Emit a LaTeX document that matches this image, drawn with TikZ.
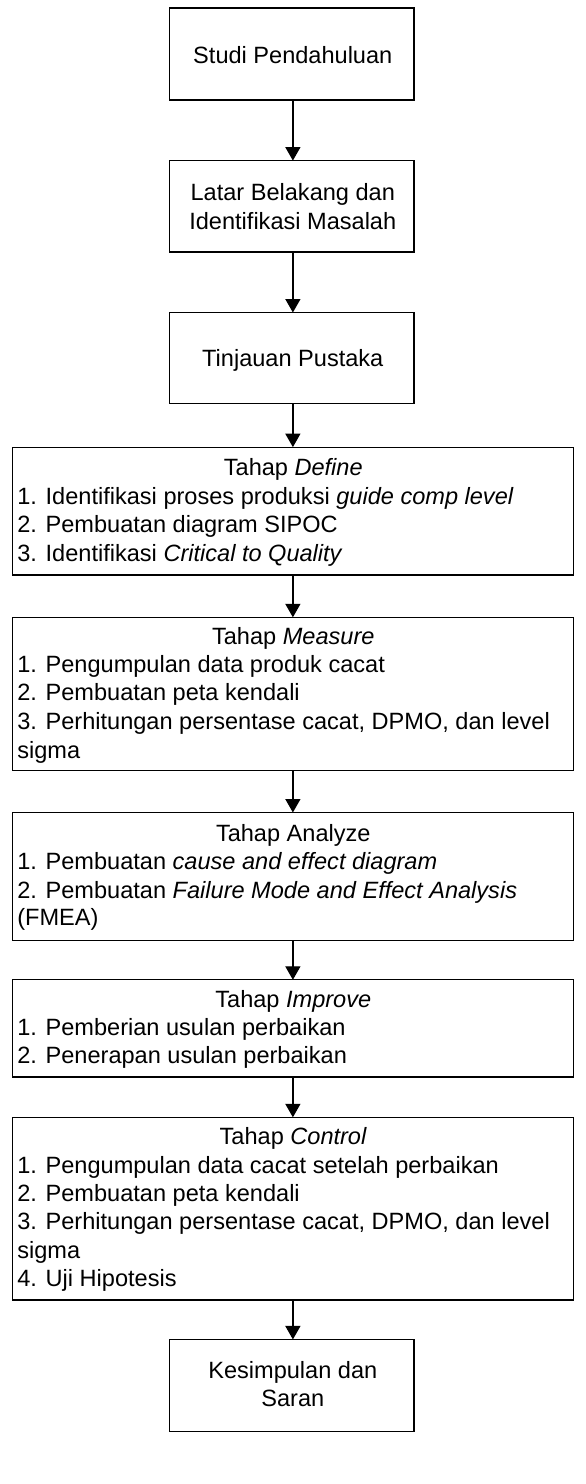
\documentclass[tikz,border=0pt]{standalone}
\usepackage{fontspec}
\setmainfont{Liberation Sans}
\usetikzlibrary{arrows.meta,fit}
\begin{document}
\begin{tikzpicture}[x=0.5pt,y=-0.5pt,
  box/.style={draw=black, line width=0.65pt, inner sep=0pt, outer sep=0pt},
  txt/.style={inner sep=0pt, outer sep=0pt, font=\fontsize{12.25pt}{14.7pt}\selectfont},
  ttl/.style={txt, anchor=base},
  itm/.style={txt, anchor=base west},
  arr/.style={line width=0.65pt, -{Triangle[width=7.8pt,length=7pt]}}]
\useasboundingbox (0,0) rectangle (609.44,1543.36);
\fill[white] (0,0) rectangle (609.44,1543.36);
\coordinate (ax) at (304.6,0);
% boxes
\node[box, fit={(176.4,8.3) (430.5,104)}] (b1) {};
\node[box, fit={(176.4,167) (430.5,262)}] (b2) {};
\node[box, fit={(176.4,325) (430.5,420)}] (b3) {};
\node[box, fit={(13,465) (596.5,598)}] (b4) {};
\node[box, fit={(13,642) (596.5,801)}] (b5) {};
\node[box, fit={(13,845) (596.5,978)}] (b6) {};
\node[box, fit={(13,1019) (596.5,1120)}] (b7) {};
\node[box, fit={(13,1162) (596.5,1352)}] (b8) {};
\node[box, fit={(176.4,1393) (430.5,1489)}] (b9) {};
% texts
\node[ttl] (t1) at (304.5,65.7) {Studi Pendahuluan};
\node[ttl] (t2a) at (304.5,208.3) {Latar Belakang dan};
\node[ttl] (t2b) at (304.5,238.3) {Identifikasi Masalah};
\node[ttl] (t3) at (304.5,381) {Tinjauan Pustaka};

\node[ttl] (d0) at (305,495) {Tahap \textit{Define}};
\node[itm] (d1) at (18,524.5) {1. Identifikasi proses produksi \textit{guide comp level}};
\node[itm] (d2) at (18,554) {2. Pembuatan diagram SIPOC};
\node[itm] (d3) at (18,583.5) {3. Identifikasi \textit{Critical to Quality}};

\node[ttl] (m0) at (305,670) {Tahap \textit{Measure}};
\node[itm] (m1) at (18,699.5) {1. Pengumpulan data produk cacat};
\node[itm] (m2) at (18,729) {2. Pembuatan peta kendali};
\node[itm] (m3) at (18,758.7) {3. Perhitungan persentase cacat, DPMO, dan level};
\node[itm] (m4) at (18,788.5) {sigma};

\node[ttl] (a0) at (305,875) {Tahap Analyze};
\node[itm] (a1) at (18,904.5) {1. Pembuatan \textit{cause and effect diagram}};
\node[itm] (a2) at (18,934) {2. Pembuatan \textit{Failure Mode and Effect Analysis}};
\node[itm] (a3) at (18,963) {(FMEA)};

\node[ttl] (i0) at (305,1048) {Tahap \textit{Improve}};
\node[itm] (i1) at (18,1077) {1. Pemberian usulan perbaikan};
\node[itm] (i2) at (18,1106) {2. Penerapan usulan perbaikan};

\node[ttl] (c0) at (305,1190.5) {Tahap \textit{Control}};
\node[itm] (c1) at (18,1220) {1. Pengumpulan data cacat setelah perbaikan};
\node[itm] (c2) at (18,1249.5) {2. Pembuatan peta kendali};
\node[itm] (c3) at (18,1279) {3. Perhitungan persentase cacat, DPMO, dan level};
\node[itm] (c4) at (18,1308.5) {sigma};
\node[itm] (c5) at (18,1338) {4. Uji Hipotesis};

\node[ttl] (t9a) at (304.5,1434) {Kesimpulan dan};
\node[ttl] (t9b) at (304.5,1463) {Saran};
% arrows
\draw[arr] (ax |- b1.south) -- (ax |- b2.north);
\draw[arr] (ax |- b2.south) -- (ax |- b3.north);
\draw[arr] (ax |- b3.south) -- (ax |- b4.north);
\draw[arr] (ax |- b4.south) -- (ax |- b5.north);
\draw[arr] (ax |- b5.south) -- (ax |- b6.north);
\draw[arr] (ax |- b6.south) -- (ax |- b7.north);
\draw[arr] (ax |- b7.south) -- (ax |- b8.north);
\draw[arr] (ax |- b8.south) -- (ax |- b9.north);
\end{tikzpicture}
\end{document}
